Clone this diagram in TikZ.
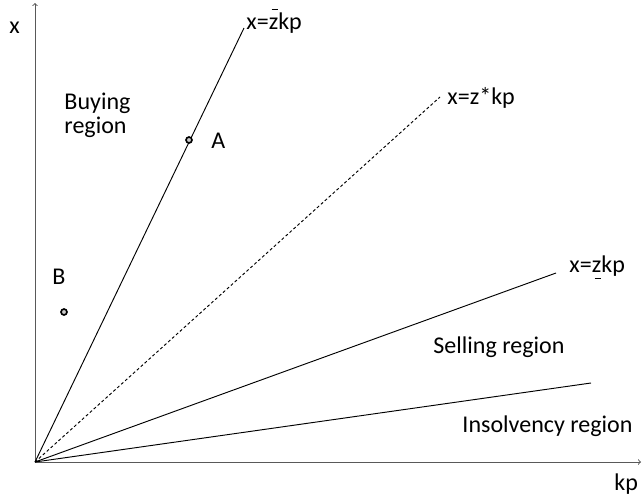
\documentclass[tikz,border=0pt]{standalone}
\usepackage{fontspec}
\setmainfont{Carlito}
\usetikzlibrary{positioning}
\newcommand{\spot}{
coordinate[draw, line width=1.4pt, shape=circle, inner sep=1.8, fill=gray!40]
}
\newcommand{\zover}{\leavevmode\rlap{\kern0.12em\raisebox{0.78em}{\rule{0.28em}{0.06em}}}z}
\newcommand{\zunder}{\leavevmode\rlap{\kern0.12em\raisebox{-0.3em}{\rule{0.28em}{0.06em}}}z}

\begin{document}
\begin{tikzpicture}[x=0.03cm, y=-0.03cm, font=\fontsize{20.5}{24}\selectfont,
  lbl/.style={anchor=base west, inner sep=0}, line width=0.8pt]
\useasboundingbox (0,0) rectangle (643,496);
% axes
\path (35,462) coordinate (O);
\path (641,462) coordinate (kpend);
\path (35,3) coordinate (xend);
\draw[->, gray!70!black] (O) -- (kpend);
\draw[->, gray!70!black] (O) -- (xend);
\path (9,33) node[lbl] (xlbl) {x};
\path (614,490) node[lbl] (kplbl) {kp};
% boundary lines
\path (244,28) coordinate (upper);
\path (440,97) coordinate (opt);
\path (556,273) coordinate (lower);
\path (591,383) coordinate (insolv);
\draw (O) -- (upper);
\draw[dash pattern=on 2.5pt off 2pt] (O) -- (opt);
\draw (O) -- (lower);
\draw (O) -- (insolv);
\path (246,29) node[lbl] (upperlbl) {x=\zover kp};
\path (447,104) node[lbl] (optlbl) {x=z*kp};
\path (569,272) node[lbl] (lowerlbl) {x=\zunder kp};
% regions
\path (64,109) node[lbl] (buy1) {Buying};
\path (64,133) node[lbl] (buy2) {region};
\path (433,353) node[lbl] (sell) {Selling region};
\path (462,432) node[lbl] (insolvency) {Insolvency region};
% points
\path (189,140) \spot (A);
\path (211,148) node[lbl] (Albl) {A};
\path (64,312) \spot (B);
\path (52,284) node[lbl] (Blbl) {B};
\end{tikzpicture}
\end{document}
